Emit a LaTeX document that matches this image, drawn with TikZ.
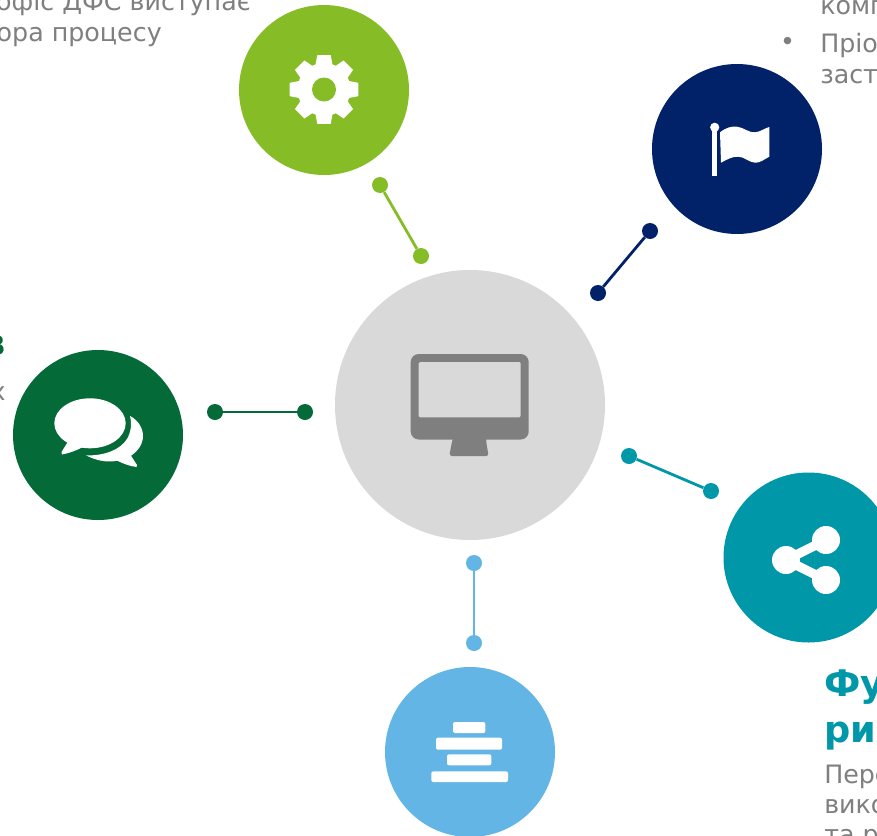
\documentclass[tikz,border=0pt]{standalone}
\usepackage{fontspec}
\setmainfont{DejaVu Sans}
\definecolor{cLime}{HTML}{86BC25}
\definecolor{cNavy}{HTML}{012169}
\definecolor{cForest}{HTML}{046A38}
\definecolor{cTeal}{HTML}{0097A9}
\definecolor{cSky}{HTML}{62B5E5}
\definecolor{cHub}{HTML}{D9D9D9}
\definecolor{cIcon}{HTML}{7F7F7F}
\tikzset{
  bigdisc/.style={circle,fill=#1,draw=none,minimum size=127.5pt,inner sep=0pt},
  hubdisc/.style={circle,fill=cHub,draw=none,minimum size=202.5pt,inner sep=0pt},
  dot/.style={circle,fill=#1,draw=none,minimum size=12pt,inner sep=0pt},
  link/.style={draw=#1,line width=2.1pt},
  body/.style={text=cIcon,font=\fontsize{19}{19}\selectfont,inner sep=0pt,anchor=base west},
  bodyR/.style={text=cIcon,font=\fontsize{19}{19}\selectfont,inner sep=0pt,anchor=base east},
  head/.style={text=#1,font=\fontsize{27.5}{27.5}\selectfont\bfseries,inner sep=0pt,anchor=base west},
  bar/.style={fill=white,draw=none,rounded corners=1.5pt}
}
\begin{document}
\begin{tikzpicture}[x=0.75pt,y=-0.75pt]
\useasboundingbox (0,0) rectangle (877,835);
\clip (0,0) rectangle (877,835);
\fill[white] (0,0) rectangle (877,835);
% discs
\node[hubdisc] (hub) at (470,405) {};
\node[bigdisc=cLime] (gearD) at (324,90) {};
\node[bigdisc=cNavy] (flagD) at (737,149) {};
\node[bigdisc=cForest] (chatD) at (98,435) {};
\node[bigdisc=cTeal] (shareD) at (808.5,557.5) {};
\node[bigdisc=cSky] (barsD) at (470,752) {};
% connectors
\node[dot=cLime] (a1) at (380,185) {};
\node[dot=cLime] (a2) at (421,256) {};
\draw[link=cLime] (a1) -- (a2);
\node[dot=cNavy] (b1) at (650,231) {};
\node[dot=cNavy] (b2) at (598,293) {};
\draw[link=cNavy] (b1) -- (b2);
\node[dot=cForest] (c1) at (215,412) {};
\node[dot=cForest] (c2) at (305,412) {};
\draw[link=cForest] (c1) -- (c2);
\node[dot=cTeal] (d1) at (629,456) {};
\node[dot=cTeal] (d2) at (711,491) {};
\draw[link=cTeal] (d1) -- (d2);
\node[dot=cSky] (e1) at (474,563) {};
\node[dot=cSky] (e2) at (474,643) {};
\draw[link=cSky] (e1) -- (e2);
% monitor
\fill[cIcon,rounded corners=6pt] (410.7,354) rectangle (528.7,439.5);
\fill[cHub,rounded corners=1pt] (418.7,362) rectangle (520.7,417.3);
\fill[cIcon,rounded corners=2pt] (453.3,437) -- (486,437) -- (486.5,444) -- (488.7,456) -- (449.3,456) -- (451.5,444) -- cycle;
% gear
\begin{scope}[shift={(324,89.5)}]
\fill[white] (0,0) circle (26.5);
\foreach \a in {0,45,...,315} {
  \fill[white] (\a-22:24) -- (\a-11:35) -- (\a+11:35) -- (\a+22:24) -- cycle;
}
\fill[cLime] (0,0) circle (12);
\end{scope}
% flag
\fill[white] (712.3,128) rectangle (717,176);
\fill[white] (714.7,127.3) circle (4.6);
\fill[white] (720,132.3) .. controls (726,127.5) and (732,126) .. (737,126.7)
  .. controls (744,127.5) and (749,133) .. (755,132.3)
  .. controls (760,132) and (764,128.5) .. (769.3,127)
  -- (769.3,156.7)
  .. controls (764,159.5) and (760,163) .. (755,162.7)
  .. controls (749,162.5) and (744,156.5) .. (738,156.7)
  .. controls (732,156.5) and (727,159.5) .. (721,162.7) -- cycle;
% chat
\fill[white] (90,423.3) ellipse (35.7 and 25);
\fill[white] (69,440) -- (61.5,452) -- (62,454.5) .. controls (70,453) and (76,450.5) .. (83,447) -- cycle;
\fill[white] (130,416) .. controls (138,420) and (143,428) .. (143,436)
  .. controls (143,444) and (138,451) .. (131,455.7)
  -- (137,465) -- (136.5,467) .. controls (129,466) and (123,463.5) .. (117.3,460.7)
  .. controls (106,463) and (95,460) .. (86,455.3)
  .. controls (104,456) and (120,450) .. (127,439)
  .. controls (131,432) and (132,424) .. (130,416) -- cycle;
% share
\fill[white] (826,540) circle (14) (826,580) circle (14) (786,560) circle (14);
\draw[white,line width=7pt] (786,560) -- (826,540) (786,560) -- (826,580);
% bars
\fill[bar] (453,722) rectangle (485.3,733);
\fill[bar] (436,737.7) rectangle (502,749.7);
\fill[bar] (447,754.3) rectangle (491.3,765.3);
\fill[bar] (431.3,771.3) rectangle (508,782);
% texts
\node[bodyR] (t1) at (251,11) {офіс ДФС виступає};
\node[bodyR] (t2) at (162,41) {ора процесу};
\node[body] (t3) at (820,14) {комп};
\node[text=cIcon,font=\fontsize{19}{19}\selectfont,inner sep=0pt] (t4) at (787.5,44) {•};
\node[body] (t5) at (820,52) {Пріо};
\node[body] (t6) at (820,83) {заст};
\node[text=cForest,font=\fontsize{27.5}{27.5}\selectfont\bfseries,inner sep=0pt,anchor=base east] (t7) at (6,355.5) {в};
\node[bodyR] (t8) at (6,400) {х};
\node[head=cTeal] (t9) at (824,696) {Фу};
\node[head=cTeal] (t10) at (824,742) {ри};
\node[body] (t11) at (824,783) {Пере};
\node[body] (t12) at (824,813) {вико};
\node[body] (t13) at (824,843) {та р};
\end{tikzpicture}
\end{document}
